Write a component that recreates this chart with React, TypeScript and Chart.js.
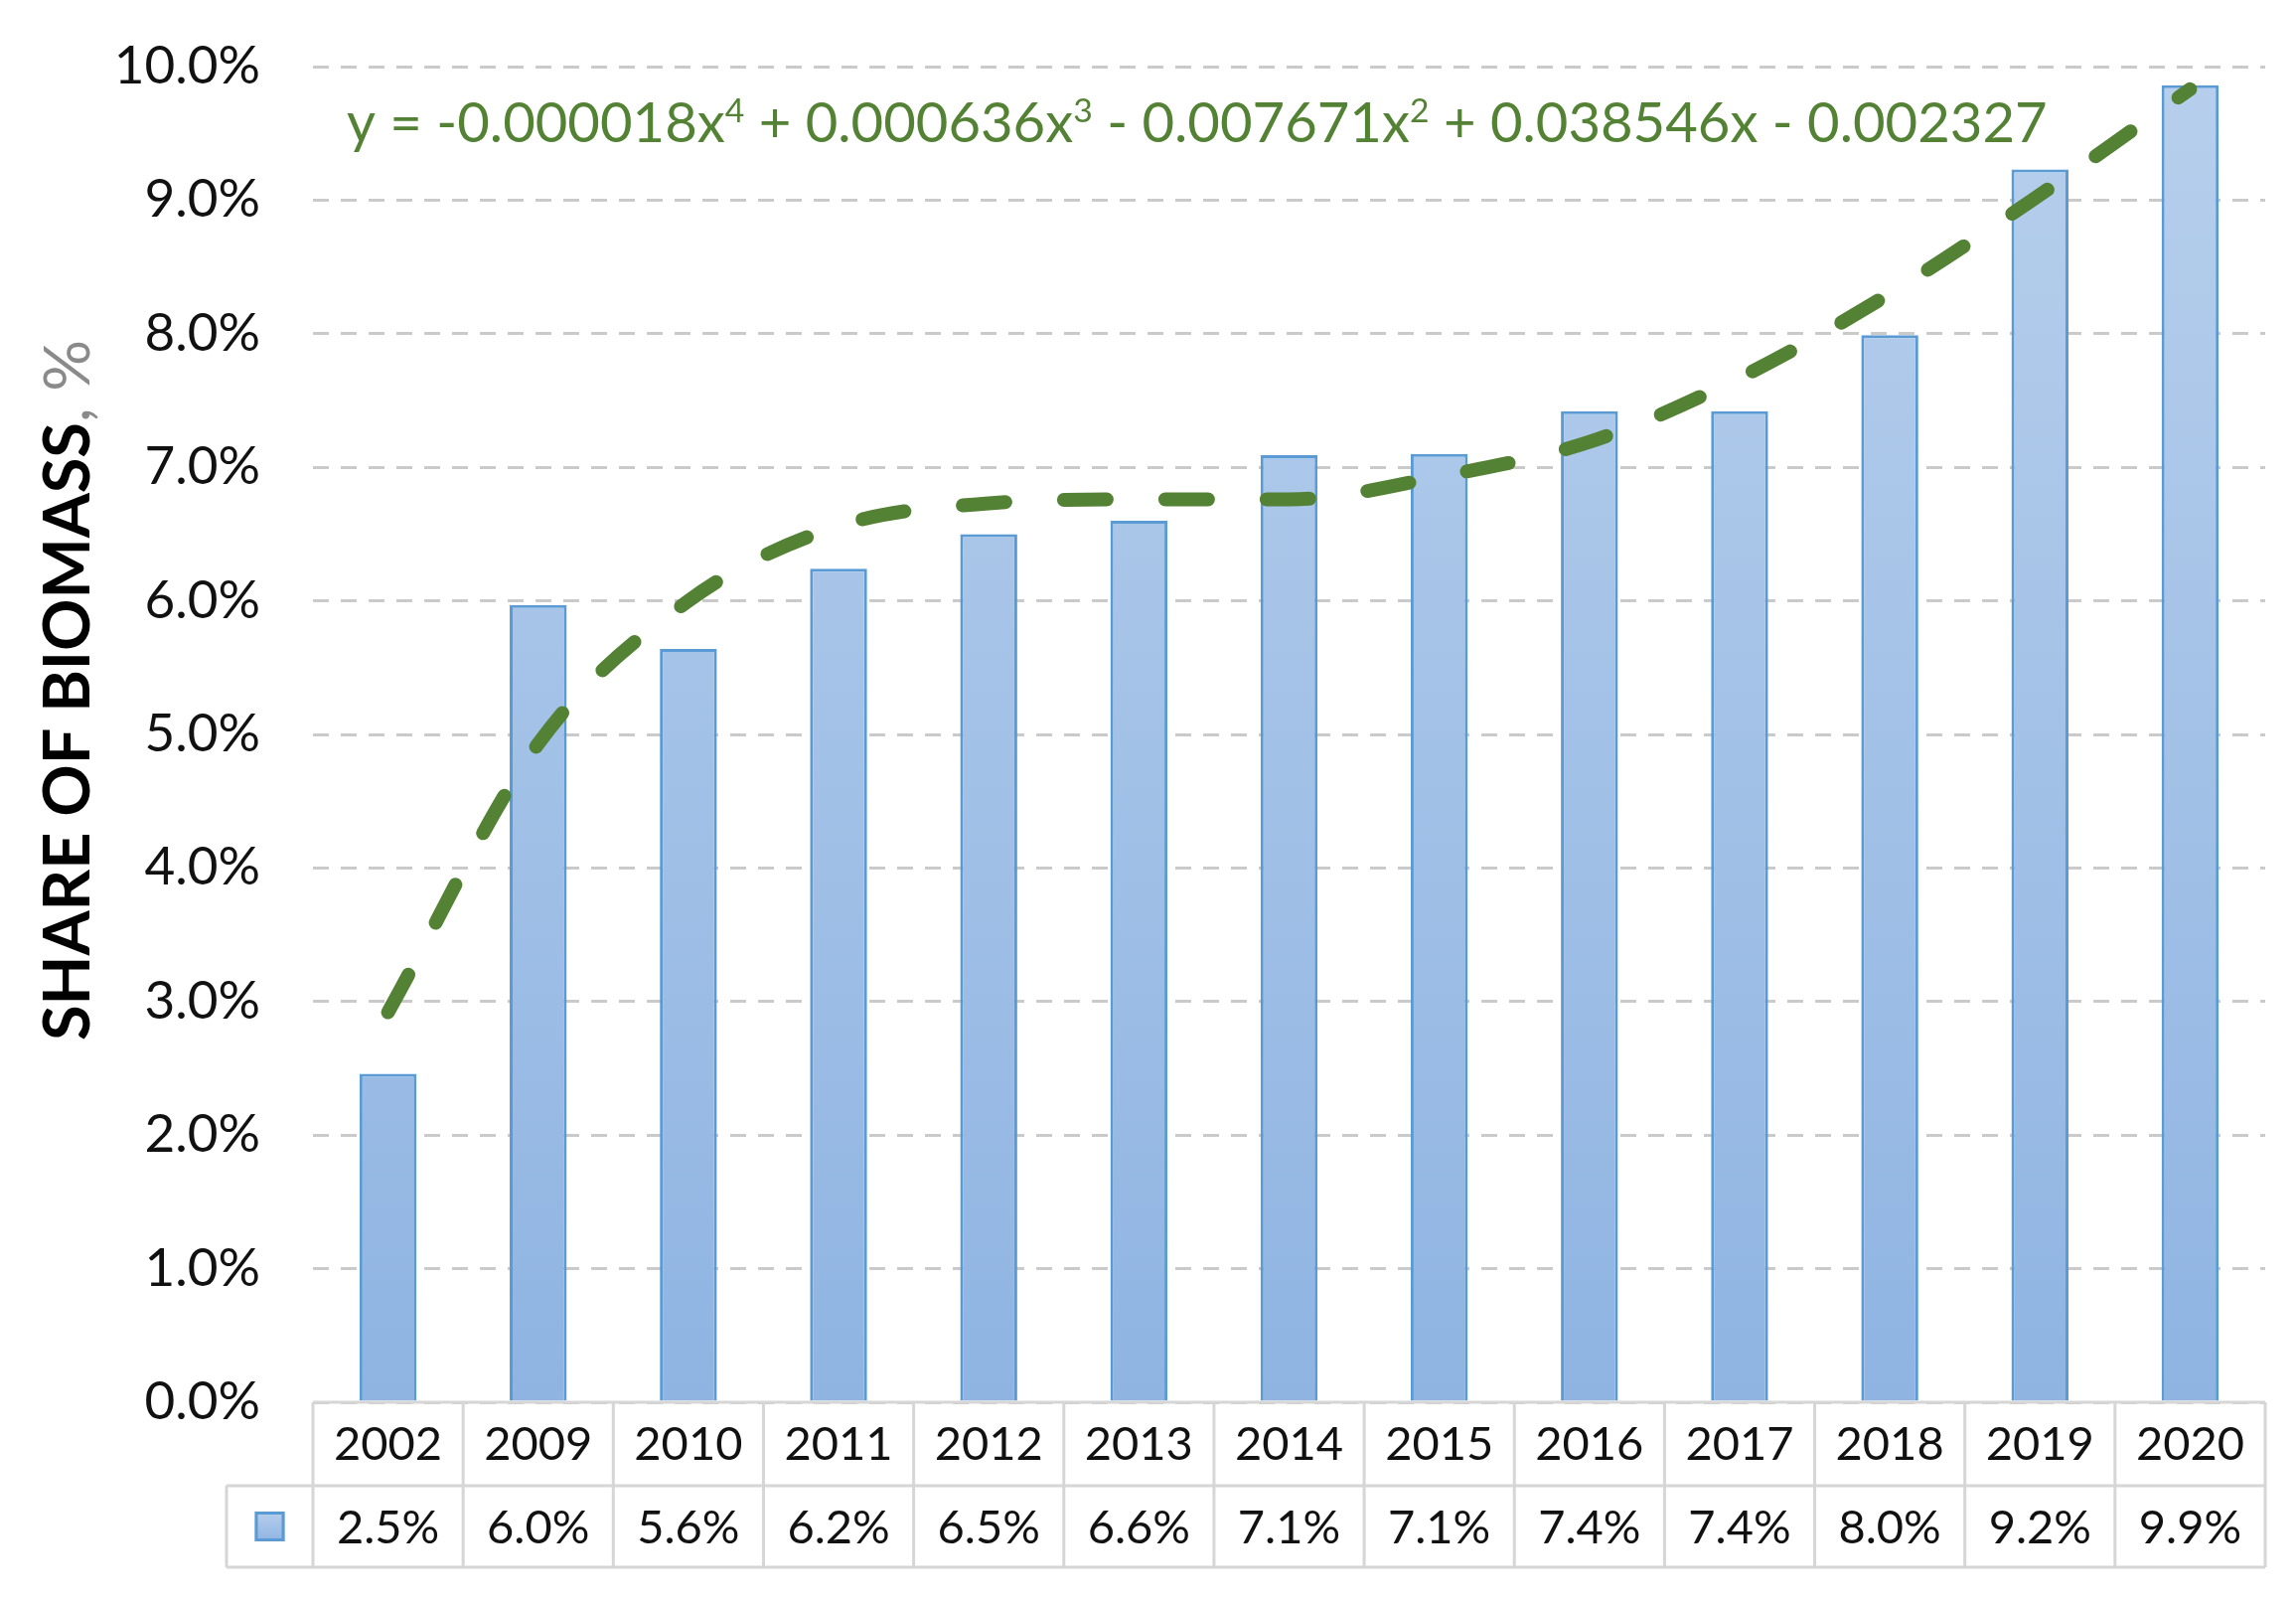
import { useEffect, useRef } from "react";
import { Chart, registerables } from "chart.js";

Chart.register(...registerables);

// ---- data ----
const years = ["2002", "2009", "2010", "2011", "2012", "2013", "2014", "2015", "2016", "2017", "2018", "2019", "2020"];
const shareValues = [2.46, 5.97, 5.64, 6.24, 6.5, 6.6, 7.09, 7.1, 7.42, 7.42, 7.99, 9.23, 9.86];
const trendValues = [2.92, 4.93, 6.0, 6.56, 6.73, 6.76, 6.76, 6.93, 7.19, 7.67, 8.3, 9.04, 9.83];
const yMin = 0;
const yMax = 10;
const yStep = 1;
const axisTitleMain = "SHARE OF BIOMASS";
const axisTitleUnit = ", %";
const equationParts: [string, boolean][] = [
  ["y = -0.000018x", false],
  ["4", true],
  [" + 0.000636x", false],
  ["3", true],
  [" - 0.007671x", false],
  ["2", true],
  [" + 0.038546x - 0.002327", false],
];

const FONT = "Lato, 'Open Sans', 'DejaVu Sans', sans-serif";
const W = 2295;
const H = 1595;
const PLOT_LEFT = 307;
const PLOT_RIGHT = 2272;
const PLOT_TOP = 59;
const PLOT_BOTTOM = 1403;
const ROW1_H = 84;
const ROW2_H = 82;
const LEGEND_LEFT = 220;
const BAR_TOP_COLOR = "#b7cfec";
const BAR_BOTTOM_COLOR = "#8fb4e2";
const BAR_BORDER = "#5b9bd5";
const TREND_COLOR = "#548235";
const GRID_COLOR = "#cacaca";
const TABLE_LINE = "#d6d6d6";

function fitSize(ctx: CanvasRenderingContext2D, text: string, weight: string, target: number) {
  ctx.font = `${weight} 100px ${FONT}`;
  const w = ctx.measureText(text).width;
  return (100 * target) / w;
}

const extrasPlugin = {
  id: "extras",
  afterDraw(chart: any) {
    const ctx: CanvasRenderingContext2D = chart.ctx;
    const area = chart.chartArea;
    const xs = chart.scales.x;
    const n = years.length;
    const half = (xs.getPixelForValue(1) - xs.getPixelForValue(0)) / 2;
    const r1b = area.bottom + ROW1_H;
    const r2b = r1b + ROW2_H;

    ctx.save();
    // ---- data table ----
    ctx.strokeStyle = TABLE_LINE;
    ctx.lineWidth = 3;
    ctx.beginPath();
    ctx.moveTo(area.left, area.bottom);
    ctx.lineTo(area.right, area.bottom);
    ctx.moveTo(LEGEND_LEFT, r1b);
    ctx.lineTo(area.right, r1b);
    ctx.moveTo(LEGEND_LEFT, r2b);
    ctx.lineTo(area.right, r2b);
    ctx.moveTo(LEGEND_LEFT, r1b);
    ctx.lineTo(LEGEND_LEFT, r2b);
    for (let i = 0; i <= n; i++) {
      const x = i < n ? xs.getPixelForValue(i) - half : xs.getPixelForValue(n - 1) + half;
      ctx.moveTo(x, area.bottom);
      ctx.lineTo(x, r2b);
    }
    ctx.stroke();

    const tsize = 47;
    ctx.font = `${tsize}px ${FONT}`;
    ctx.fillStyle = "#111111";
    ctx.textAlign = "center";
    ctx.textBaseline = "alphabetic";
    for (let i = 0; i < n; i++) {
      const cx = xs.getPixelForValue(i);
      ctx.fillText(years[i], cx, area.bottom + ROW1_H / 2 + tsize * 0.34);
      ctx.fillText(shareValues[i].toFixed(1) + "%", cx, r1b + ROW2_H / 2 + tsize * 0.36);
    }
    // legend swatch
    const sx = (LEGEND_LEFT + area.left) / 2;
    const sy = r1b + ROW2_H / 2;
    const g = ctx.createLinearGradient(0, sy - 15, 0, sy + 15);
    g.addColorStop(0, BAR_TOP_COLOR);
    g.addColorStop(1, BAR_BOTTOM_COLOR);
    ctx.fillStyle = g;
    ctx.fillRect(sx - 15, sy - 15, 30, 30);
    ctx.strokeStyle = BAR_BORDER;
    ctx.lineWidth = 3;
    ctx.strokeRect(sx - 13.5, sy - 13.5, 27, 27);

    // ---- y axis title ----
    const tsz = fitSize(ctx, axisTitleMain, "bold", 622);
    ctx.translate(82, 1039);
    ctx.rotate(-Math.PI / 2);
    ctx.textAlign = "left";
    ctx.font = `bold ${tsz}px ${FONT}`;
    ctx.fillStyle = "#000000";
    ctx.fillText(axisTitleMain, 0, 0);
    const mw = ctx.measureText(axisTitleMain).width;
    ctx.font = `${tsz}px ${FONT}`;
    ctx.fillStyle = "#8a8a8a";
    ctx.fillText(axisTitleUnit, mw, 0);
    ctx.setTransform(1, 0, 0, 1, 0, 0);

    // ---- equation ----
    const supScale = 0.6;
    let total = 0;
    for (const [t, sup] of equationParts) {
      ctx.font = `${sup ? 100 * supScale : 100}px ${FONT}`;
      total += ctx.measureText(t).width;
    }
    const esz = (100 * 1712) / total;
    let ex = 341;
    const ey = 135;
    ctx.fillStyle = TREND_COLOR;
    ctx.textAlign = "left";
    for (const [t, sup] of equationParts) {
      const s = sup ? esz * supScale : esz;
      ctx.font = `${s}px ${FONT}`;
      ctx.fillText(t, ex, sup ? ey - esz * 0.36 : ey);
      ex += ctx.measureText(t).width;
    }
    ctx.restore();
  },
};

export default function App() {
  const ref = useRef<HTMLCanvasElement | null>(null);
  useEffect(() => {
    if (!ref.current) return;
    const chart = new Chart(ref.current, {
      type: "bar",
      data: {
        labels: years,
        datasets: [
          {
            type: "line",
            label: "Trend",
            data: trendValues,
            borderColor: TREND_COLOR,
            borderWidth: 14,
            borderDash: [43, 59],
            borderCapStyle: "round",
            cubicInterpolationMode: "monotone",
            pointRadius: 0,
            fill: false,
            order: 0,
          } as any,
          {
            type: "bar",
            label: "Share of biomass",
            data: shareValues,
            backgroundColor: (c: any) => {
              const area = c.chart.chartArea;
              if (!area) return BAR_TOP_COLOR;
              const g = c.chart.ctx.createLinearGradient(0, area.top, 0, area.bottom);
              g.addColorStop(0, BAR_TOP_COLOR);
              g.addColorStop(1, BAR_BOTTOM_COLOR);
              return g;
            },
            borderColor: BAR_BORDER,
            borderWidth: 3,
            barPercentage: 0.38,
            categoryPercentage: 1,
            order: 1,
          },
        ],
      },
      options: {
        responsive: false,
        devicePixelRatio: 1,
        animation: false,
        layout: { padding: { left: 0, right: W - PLOT_RIGHT, top: PLOT_TOP, bottom: 0 } },
        plugins: { legend: { display: false }, tooltip: { enabled: false } },
        scales: {
          x: {
            grid: { display: false },
            border: { display: false },
            ticks: { display: false },
            afterFit: (s: any) => {
              s.height = H - PLOT_BOTTOM;
              s.paddingLeft = 0;
              s.paddingRight = 0;
            },
          },
          y: {
            min: yMin,
            max: yMax,
            afterFit: (s: any) => {
              s.width = PLOT_LEFT;
              s.paddingTop = 0;
              s.paddingBottom = 0;
            },
            ticks: {
              stepSize: yStep,
              padding: 53,
              color: "#111111",
              font: { family: FONT, size: 53 },
              callback: (v: any) => Number(v).toFixed(1) + "%",
            },
            grid: { color: GRID_COLOR, lineWidth: 3, drawTicks: false },
            border: { display: false, dash: [16, 12] },
          },
        },
      },
      plugins: [extrasPlugin],
    });
    return () => chart.destroy();
  }, []);
  return (
    <div style={{ width: W, height: H }}>
      <canvas ref={ref} width={W} height={H} style={{ display: "block" }} />
    </div>
  );
}
